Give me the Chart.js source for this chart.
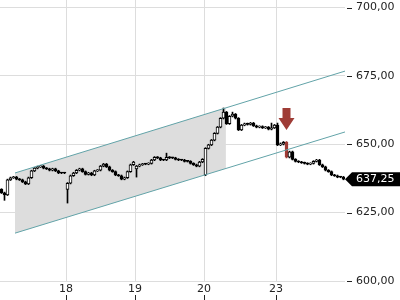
<!DOCTYPE html>
<html>
<head>
  <title>Kursverlauf</title>
  <script src="https://cdn.jsdelivr.net/npm/chart.js"></script>
  <style>
    body {
      margin: 0;
      padding: 0;
      background-color: #fff;
    }
    .chart-container {
      width: 400px;
      height: 300px;
      position: relative;
    }
  </style>
</head>
<body>
  <div class="chart-container">
    <canvas id="priceChart"></canvas>
  </div>
  <script>
    // candle data (one candle per slot, 115 slots)
    const opens = [633.5, 632.25, 631.5, 637.0, 637.75, 638.0, 637.25, 637.0, 636.25, 635.5,
      637.75, 640.25, 641.25, 641.75, 642.0, 641.25, 641.0, 640.5, 641.0, 640.25,
      639.5, 639.5, 633.5, 635.75, 638.5, 639.5, 640.5, 641.0, 640.0, 639.0,
      639.5, 638.75, 640.25, 640.5, 642.0, 642.75, 641.75, 640.5, 640.0, 638.75,
      638.5, 637.25, 637.75, 640.0, 642.5, 641.0, 642.0, 642.5, 642.75, 642.75,
      643.0, 644.25, 645.25, 645.0, 644.25, 644.25, 645.25, 645.0, 645.0, 644.5,
      644.25, 644.25, 643.75, 643.75, 643.0, 642.5, 642.0, 643.5, 638.75, 648.5,
      649.75, 651.5, 654.0, 656.25, 659.5, 661.75, 657.5, 660.25, 661.0, 659.5,
      655.25, 657.0, 657.5, 657.25, 657.75, 656.75, 656.25, 656.5, 656.0, 656.25,
      655.5, 656.0, 657.0, 649.75, 650.0, 650.75, 645.25, 647.25, 644.5, 643.75,
      643.5, 643.25, 643.0, 642.75, 643.0, 643.75, 644.25, 642.5, 641.75, 640.5,
      640.0, 638.75, 638.5, 638.0, 638.0];
    const closes = [632.25, 631.5, 637.0, 637.75, 638.0, 637.25, 637.0, 636.25, 635.5, 637.75,
      640.25, 641.25, 641.75, 642.0, 641.25, 641.0, 640.5, 641.0, 640.25, 639.5,
      639.5, 639.5, 635.75, 638.5, 639.5, 640.5, 641.0, 640.0, 639.0, 639.5,
      638.75, 640.25, 640.5, 642.0, 642.75, 641.75, 640.5, 640.0, 638.75, 638.5,
      637.25, 637.75, 640.0, 642.5, 643.5, 642.0, 642.5, 642.75, 642.75, 643.0,
      644.25, 645.25, 645.0, 644.25, 644.25, 645.25, 645.0, 645.0, 644.5, 644.25,
      644.25, 643.75, 643.75, 643.0, 642.5, 642.0, 643.5, 644.5, 648.5, 649.75,
      651.5, 654.0, 656.25, 659.5, 661.75, 657.5, 660.25, 661.0, 659.5, 655.25,
      657.0, 657.5, 657.25, 657.75, 656.75, 656.25, 656.5, 656.0, 656.25, 655.5,
      656.0, 657.0, 649.75, 650.0, 650.75, 645.25, 647.25, 644.5, 643.75, 643.5,
      643.25, 643.0, 642.75, 643.0, 643.75, 644.25, 642.5, 641.75, 640.5, 640.0,
      638.75, 638.5, 638.0, 638.0, 637.25];
    const highs = [633.75, 632.5, 637.25, 638.0, 638.25, 638.25, 637.5, 637.25, 636.5, 638.0,
      640.5, 641.5, 642.0, 642.25, 642.25, 641.5, 641.25, 641.25, 641.25, 640.5,
      639.75, 639.75, 636.0, 638.75, 639.75, 640.75, 641.25, 641.25, 640.25, 639.75,
      639.75, 640.5, 640.75, 642.25, 643.0, 643.0, 642.0, 640.75, 640.25, 639.0,
      638.75, 638.0, 640.25, 642.75, 643.75, 642.25, 642.75, 643.0, 643.0, 643.25,
      644.5, 645.5, 645.5, 645.25, 644.5, 646.75, 645.5, 645.25, 645.25, 644.75,
      644.5, 644.5, 644.0, 644.0, 643.25, 642.75, 643.75, 644.75, 648.75, 650.0,
      651.75, 654.25, 656.5, 659.75, 663.25, 662.0, 660.5, 661.75, 661.25, 659.75,
      657.25, 657.75, 657.75, 658.0, 658.0, 657.0, 656.75, 656.75, 656.5, 656.5,
      657.75, 657.25, 657.75, 650.5, 651.0, 651.0, 647.5, 647.5, 644.75, 644.0,
      643.75, 643.5, 643.25, 643.25, 644.0, 644.5, 644.5, 642.75, 642.0, 640.75,
      640.25, 639.0, 638.75, 638.25, 638.25];
    const lows = [632.0, 629.5, 631.25, 636.75, 637.5, 637.0, 636.75, 636.0, 635.25, 635.25,
      637.5, 640.0, 641.0, 641.5, 641.0, 640.75, 640.25, 640.25, 640.0, 639.25,
      639.25, 639.25, 628.5, 635.5, 638.25, 639.25, 640.25, 639.75, 638.75, 638.75,
      638.5, 638.5, 640.0, 640.25, 641.75, 641.5, 640.25, 639.75, 638.5, 638.25,
      637.0, 637.0, 637.5, 639.75, 642.25, 638.0, 641.75, 642.25, 642.5, 642.5,
      642.75, 644.0, 644.75, 644.0, 644.0, 644.0, 644.75, 644.75, 644.25, 644.0,
      644.0, 643.5, 643.5, 642.75, 642.25, 641.75, 641.75, 643.25, 638.5, 648.25,
      649.5, 651.25, 653.75, 656.0, 659.25, 657.25, 657.25, 660.0, 659.25, 655.0,
      655.0, 656.75, 657.0, 657.0, 656.5, 656.0, 656.0, 655.75, 655.75, 655.25,
      655.25, 655.75, 649.5, 649.5, 649.75, 645.0, 645.0, 644.25, 643.5, 643.25,
      643.0, 642.75, 642.5, 642.5, 642.75, 643.5, 642.25, 641.5, 640.25, 639.75,
      638.5, 638.25, 637.75, 637.75, 637.0];

    // x axis: day separators (slot positions) and their labels
    const dayTicks = [21.5, 44.5, 67.5, 91.5];
    const dayLabels = ['18', '19', '20', '23'];
    const priceTicks = [600, 625, 650, 675, 700];

    // trend channel
    const channelX = [4.5, 114.5];
    const channelUpper = [639.5, 676.75];
    const channelLower = [617.5, 654.5];
    const shadeEndX = 74.8;

    // sell signal
    const signalIndex = 95;
    const signalTip = 655.25;

    const teal = '#62a3a8';
    const signalRed = '#9f3c36';

    function channelAt(line, x) {
      const t = (x - channelX[0]) / (channelX[1] - channelX[0]);
      return line[0] + (line[1] - line[0]) * t;
    }

    const wickData = highs.map((h, i) => ({ x: i, y: [lows[i], h] }));
    const bodyData = opens.map((o, i) => ({ x: i, y: [o, closes[i]] }));
    const bodyFill = opens.map((o, i) => i === signalIndex ? signalRed : (closes[i] > o ? '#fff' : '#000'));
    const bodyBorder = opens.map((o, i) => i === signalIndex ? signalRed : '#000');
    const wickColor = opens.map((o, i) => i === signalIndex ? signalRed : '#000');

    const fmt = v => v.toFixed(2).replace('.', ',');

    const extras = {
      id: 'extras',
      afterDraw(chart) {
        const ctx = chart.ctx;
        const xs = chart.scales.x;
        const ys = chart.scales.y;
        const area = chart.chartArea;
        ctx.save();
        // small tick marks
        ctx.strokeStyle = '#222';
        ctx.lineWidth = 1;
        priceTicks.forEach(v => {
          const y = Math.round(ys.getPixelForValue(v)) + 0.5;
          ctx.beginPath();
          ctx.moveTo(area.right + 2, y);
          ctx.lineTo(area.right + 7, y);
          ctx.stroke();
        });
        dayTicks.forEach(v => {
          const x = Math.round(xs.getPixelForValue(v)) + 0.5;
          ctx.beginPath();
          ctx.moveTo(x, 295);
          ctx.lineTo(x, 300);
          ctx.stroke();
        });
        // signal arrow
        const ax = xs.getPixelForValue(signalIndex);
        const tip = ys.getPixelForValue(signalTip);
        ctx.fillStyle = signalRed;
        ctx.beginPath();
        ctx.moveTo(ax - 4, tip - 22);
        ctx.lineTo(ax + 4, tip - 22);
        ctx.lineTo(ax + 4, tip - 12);
        ctx.lineTo(ax + 8, tip - 12);
        ctx.lineTo(ax, tip);
        ctx.lineTo(ax - 8, tip - 12);
        ctx.lineTo(ax - 4, tip - 12);
        ctx.closePath();
        ctx.fill();
        // last price tag
        const last = closes[closes.length - 1];
        const py = ys.getPixelForValue(last);
        ctx.fillStyle = '#000';
        ctx.beginPath();
        ctx.moveTo(area.right, py);
        ctx.lineTo(area.right + 7, py - 7);
        ctx.lineTo(400, py - 7);
        ctx.lineTo(400, py + 7);
        ctx.lineTo(area.right + 7, py + 7);
        ctx.closePath();
        ctx.fill();
        ctx.fillStyle = '#fff';
        ctx.font = '11px "DejaVu Sans"';
        ctx.textBaseline = 'middle';
        ctx.fillText(fmt(last), area.right + 11, py + 0.5);
        ctx.restore();
      }
    };

    const ctx = document.getElementById('priceChart').getContext('2d');
    new Chart(ctx, {
      type: 'bar',
      data: {
        datasets: [
          {
            type: 'line',
            data: [{ x: channelX[0], y: channelUpper[0] }, { x: shadeEndX, y: channelAt(channelUpper, shadeEndX) }],
            borderWidth: 0,
            pointRadius: 0,
            backgroundColor: '#dddddd',
            fill: '+1',
            order: 5
          },
          {
            type: 'line',
            data: [{ x: channelX[0], y: channelLower[0] }, { x: shadeEndX, y: channelAt(channelLower, shadeEndX) }],
            borderWidth: 0,
            pointRadius: 0,
            fill: false,
            order: 5
          },
          {
            data: wickData,
            backgroundColor: wickColor,
            barThickness: 1,
            grouped: false,
            order: 2
          },
          {
            data: bodyData,
            backgroundColor: bodyFill,
            borderColor: bodyBorder,
            borderWidth: 1,
            borderSkipped: false,
            barThickness: 3,
            minBarLength: 1,
            grouped: false,
            order: 1
          },
          {
            type: 'line',
            data: [{ x: channelX[0], y: channelUpper[0] }, { x: channelX[1], y: channelUpper[1] }],
            borderColor: teal,
            borderWidth: 1,
            pointRadius: 0,
            fill: false,
            order: 0
          },
          {
            type: 'line',
            data: [{ x: channelX[0], y: channelLower[0] }, { x: channelX[1], y: channelLower[1] }],
            borderColor: teal,
            borderWidth: 1,
            pointRadius: 0,
            fill: false,
            order: 0
          }
        ]
      },
      options: {
        responsive: true,
        maintainAspectRatio: false,
        animation: false,
        layout: { padding: 0 },
        plugins: {
          legend: { display: false },
          tooltip: { enabled: false }
        },
        scales: {
          x: {
            type: 'linear',
            offset: false,
            min: -0.5,
            max: 114.5,
            afterBuildTicks: s => { s.ticks = dayTicks.map(v => ({ value: v })); },
            afterFit: s => { s.height = 19; s.paddingLeft = 0; s.paddingRight = 0; },
            grid: { color: '#dddddd', drawTicks: false, offset: false },
            border: { display: false },
            ticks: {
              padding: 2,
              color: '#222',
              font: { family: 'DejaVu Sans', size: 11 },
              maxRotation: 0,
              callback: v => dayLabels[dayTicks.indexOf(v)]
            }
          },
          y: {
            position: 'right',
            min: 600,
            max: 702.75,
            afterBuildTicks: s => { s.ticks = priceTicks.map(v => ({ value: v })); },
            afterFit: s => { s.width = 55; s.paddingTop = 0; s.paddingBottom = 0; },
            grid: { color: '#dddddd', drawTicks: false },
            border: { display: false },
            ticks: {
              padding: 11,
              color: '#222',
              font: { family: 'DejaVu Sans', size: 11 },
              callback: v => fmt(v)
            }
          }
        }
      },
      plugins: [extras]
    });
  </script>
</body>
</html>
